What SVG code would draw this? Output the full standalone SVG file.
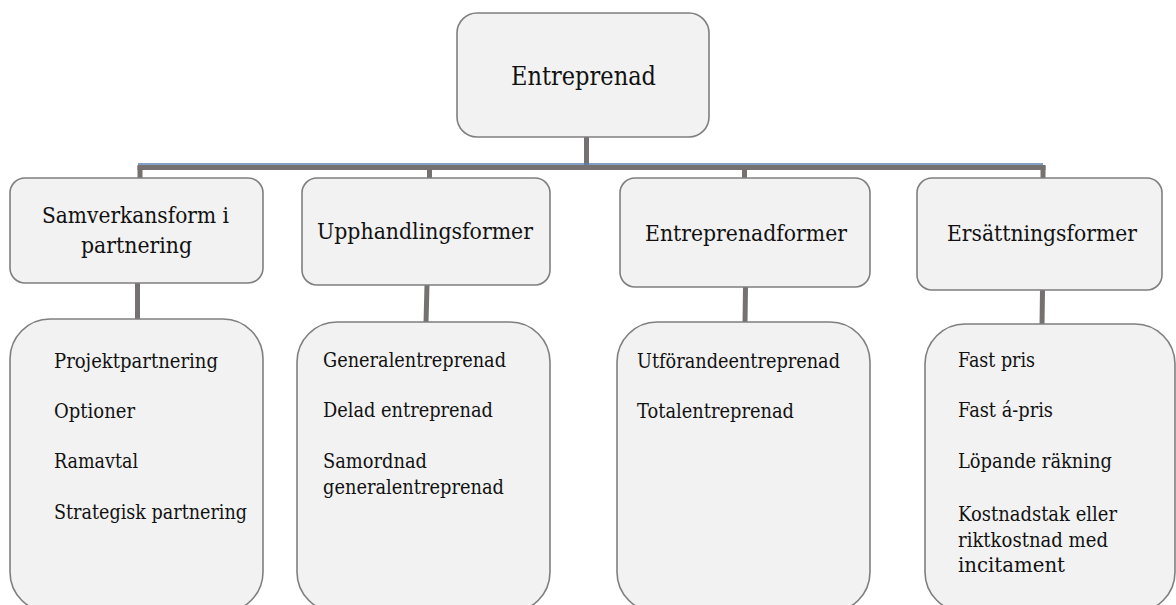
<svg xmlns="http://www.w3.org/2000/svg" width="1176" height="605" viewBox="0 0 1176 605">
<style>
.box{fill:#f2f2f2;stroke:#7f7f7f;stroke-width:1.6}
.con{stroke:#767171;stroke-width:5;fill:none}
text{font-family:"DejaVu Serif","Liberation Serif",serif;fill:#111}
.h1{font-size:26px}
.h2{font-size:22px}
.t{font-size:20px}
</style>
<g id="connectors">
<line class="con" x1="586.5" y1="137" x2="586.5" y2="167"/>
<line class="con" x1="137.5" y1="167.5" x2="1045.5" y2="167.5"/>
<line x1="138" y1="164" x2="1043" y2="164" stroke="#5b7fb4" stroke-width="1.6"/>
<line class="con" x1="140" y1="166" x2="140" y2="179"/>
<line class="con" x1="429.5" y1="166" x2="429.5" y2="179"/>
<line class="con" x1="744.5" y1="166" x2="744.5" y2="179"/>
<line class="con" x1="1043" y1="166" x2="1043" y2="179"/>
<line class="con" x1="137.5" y1="283" x2="137.5" y2="320"/>
<line class="con" x1="427" y1="285" x2="426" y2="323"/>
<line class="con" x1="745.5" y1="287" x2="745" y2="323"/>
<line class="con" x1="1042.5" y1="290" x2="1042" y2="325"/>
</g>
<g id="root">
<rect class="box" x="457" y="13" width="252" height="124" rx="20"/>
<text class="h1" x="511" y="85" textLength="145" lengthAdjust="spacingAndGlyphs">Entreprenad</text>
</g>
<g id="samverkansform">
<rect class="box" x="10" y="178" width="253" height="105" rx="15"/>
<text class="h2" x="42" y="223" textLength="187" lengthAdjust="spacingAndGlyphs">Samverkansform i</text>
<text class="h2" x="81" y="253" textLength="111" lengthAdjust="spacingAndGlyphs">partnering</text>
</g>
<g id="upphandlingsformer">
<rect class="box" x="302" y="178" width="248" height="107" rx="15"/>
<text class="h2" x="317" y="239" textLength="216" lengthAdjust="spacingAndGlyphs">Upphandlingsformer</text>
</g>
<g id="entreprenadformer">
<rect class="box" x="620" y="178" width="250" height="109" rx="15"/>
<text class="h2" x="645" y="241" textLength="202" lengthAdjust="spacingAndGlyphs">Entreprenadformer</text>
</g>
<g id="ersattningsformer">
<rect class="box" x="917" y="178" width="245" height="112" rx="15"/>
<text class="h2" x="947" y="241" textLength="190" lengthAdjust="spacingAndGlyphs">Ersättningsformer</text>
</g>
<g id="list-samverkan">
<rect class="box" x="10" y="319" width="253" height="293" rx="40"/>
<text class="t" x="54" y="368" textLength="164" lengthAdjust="spacingAndGlyphs">Projektpartnering</text>
<text class="t" x="54" y="418" textLength="81" lengthAdjust="spacingAndGlyphs">Optioner</text>
<text class="t" x="54" y="468" textLength="84" lengthAdjust="spacingAndGlyphs">Ramavtal</text>
<text class="t" x="54" y="519" textLength="193" lengthAdjust="spacingAndGlyphs">Strategisk partnering</text>
</g>
<g id="list-upphandling">
<rect class="box" x="297" y="322" width="253" height="290" rx="40"/>
<text class="t" x="323" y="367" textLength="183" lengthAdjust="spacingAndGlyphs">Generalentreprenad</text>
<text class="t" x="323" y="417" textLength="170" lengthAdjust="spacingAndGlyphs">Delad entreprenad</text>
<text class="t" x="323" y="468" textLength="104" lengthAdjust="spacingAndGlyphs">Samordnad</text>
<text class="t" x="323" y="494" textLength="181" lengthAdjust="spacingAndGlyphs">generalentreprenad</text>
</g>
<g id="list-entreprenad">
<rect class="box" x="617" y="322" width="253" height="290" rx="40"/>
<text class="t" x="637" y="368" textLength="203" lengthAdjust="spacingAndGlyphs">Utförandeentreprenad</text>
<text class="t" x="637" y="418" textLength="157" lengthAdjust="spacingAndGlyphs">Totalentreprenad</text>
</g>
<g id="list-ersattning">
<rect class="box" x="925" y="324" width="250" height="288" rx="40"/>
<text class="t" x="958" y="367" textLength="77" lengthAdjust="spacingAndGlyphs">Fast pris</text>
<text class="t" x="958" y="417" textLength="95" lengthAdjust="spacingAndGlyphs">Fast á-pris</text>
<text class="t" x="958" y="468" textLength="154" lengthAdjust="spacingAndGlyphs">Löpande räkning</text>
<text class="t" x="958" y="521" textLength="159" lengthAdjust="spacingAndGlyphs">Kostnadstak eller</text>
<text class="t" x="958" y="547" textLength="150" lengthAdjust="spacingAndGlyphs">riktkostnad med</text>
<text class="t" x="958" y="572" textLength="107" lengthAdjust="spacingAndGlyphs">incitament</text>
</g>
</svg>
